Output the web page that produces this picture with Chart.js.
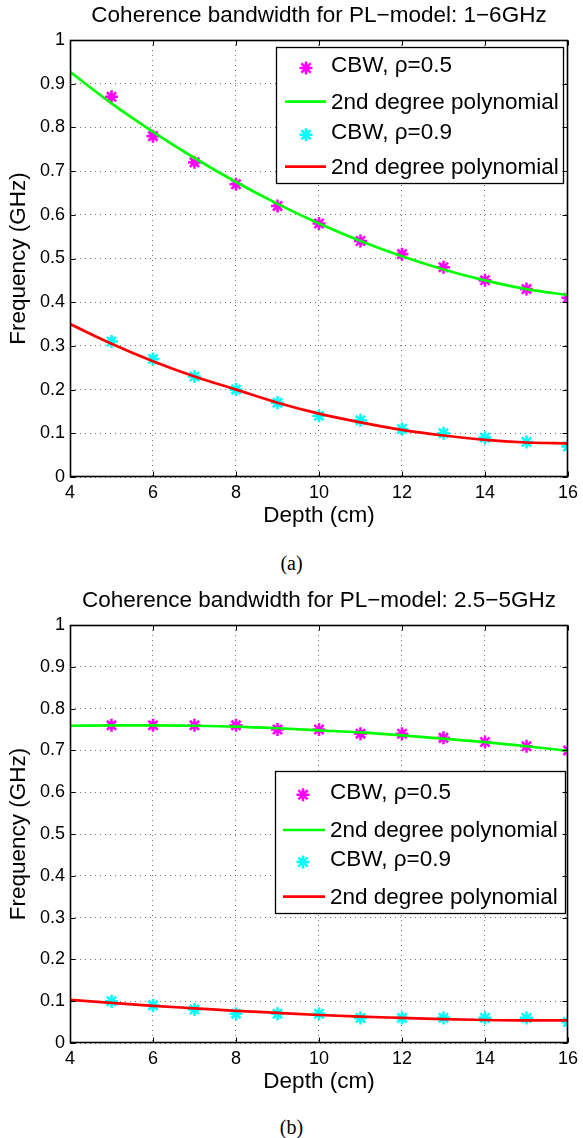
<!DOCTYPE html>
<html><head><meta charset="utf-8">
<script src="https://cdn.jsdelivr.net/npm/chart.js@4.4.1/dist/chart.umd.min.js"></script>
<style>
body{margin:0;background:#fff;width:583px;height:1138px;position:relative;overflow:hidden}
canvas{position:absolute;left:0}
.cap{position:absolute;left:0;width:583px;text-align:center;font-family:'Liberation Serif','Times New Roman',serif;font-size:20px;line-height:20px;color:#000}
</style></head><body>
<canvas id="ca" width="583" height="540" style="top:0px"></canvas>
<div class="cap" style="top:553px">(a)</div>
<canvas id="cb" width="583" height="531" style="top:575px"></canvas>
<div class="cap" style="top:1117px">(b)</div>
<script>
// ---- data ----
const depth = [5,6,7,8,9,10,11,12,13,14,15,16];
const fitDepth = [4,5,6,7,8,9,10,11,12,13,14,15,16];
const cbw05A = [0.87,0.78,0.72,0.67,0.62,0.58,0.54,0.51,0.48,0.45,0.43,0.41];
const fit05A = [0.927,0.855,0.79,0.73,0.675,0.625,0.58,0.54,0.505,0.475,0.45,0.43,0.416];
const cbw09A = [0.31,0.27,0.23,0.20,0.17,0.14,0.13,0.11,0.10,0.09,0.08,0.07];
const fit09A = [0.35,0.305,0.265,0.23,0.20,0.17,0.145,0.125,0.108,0.095,0.085,0.079,0.077];
const cbw05B = [0.76,0.76,0.76,0.76,0.75,0.75,0.74,0.74,0.73,0.72,0.71,0.70];
const fit05B = [0.759,0.760,0.760,0.759,0.757,0.753,0.748,0.743,0.736,0.728,0.72,0.71,0.699];
const cbw09B = [0.10,0.09,0.08,0.07,0.07,0.07,0.06,0.06,0.06,0.06,0.06,0.05];
const fit09B = [0.103,0.096,0.089,0.083,0.077,0.072,0.067,0.063,0.060,0.057,0.055,0.054,0.054];
const xTicks = [4,6,8,10,12,14,16];
const yTicks = [0,0.1,0.2,0.3,0.4,0.5,0.6,0.7,0.8,0.9,1];
const yTickLabels = ['0','0.1','0.2','0.3','0.4','0.5','0.6','0.7','0.8','0.9','1'];
const seriesLabels = ['CBW, \u03c1=0.5','2nd degree polynomial','CBW, \u03c1=0.9','2nd degree polynomial'];
const titleA = 'Coherence bandwidth for PL\u2212model: 1\u22126GHz';
const titleB = 'Coherence bandwidth for PL\u2212model: 2.5\u22125GHz';
const xTitle = 'Depth (cm)';
const yTitle = 'Frequency (GHz)';

const FONT = "'Liberation Sans', Arial, Helvetica, sans-serif";
Chart.defaults.font.family = FONT;
Chart.defaults.color = '#000';

const pts = (xs, ys) => xs.map((x, i) => ({x, y: ys[i]}));

const frameLegend = {
  id: 'frameLegend',
  afterDatasetsDraw(chart, args, o) {
    const ctx = chart.ctx;
    ctx.save();
    ctx.fillStyle = '#fff';
    ctx.fillRect(o.left, o.top, o.right - o.left, o.bottom - o.top);
    ctx.strokeStyle = '#000';
    ctx.lineWidth = 1.3;
    ctx.setLineDash([]);
    ctx.strokeRect(Math.round(o.left) + 0.5, Math.round(o.top) + 0.5, Math.round(o.right - o.left), Math.round(o.bottom - o.top));
    chart.data.datasets.forEach((ds, i) => {
      const y = o.top + o.rows[i];
      if (ds.showLine === false) {
        ctx.strokeStyle = ds.borderColor;
        ctx.fillStyle = ds.backgroundColor;
        ctx.lineWidth = ds.borderWidth;
        Chart.helpers.drawPoint(ctx, {pointStyle: 'star', radius: ds.pointRadius, borderWidth: ds.borderWidth}, o.markerX, y + 3);
      } else {
        ctx.strokeStyle = ds.borderColor;
        ctx.lineWidth = ds.borderWidth;
        ctx.beginPath(); ctx.moveTo(o.lineX1, y); ctx.lineTo(o.lineX2, y); ctx.stroke();
      }
      ctx.fillStyle = '#000';
      ctx.font = '22.5px ' + FONT;
      ctx.textBaseline = 'middle';
      ctx.textAlign = 'left';
      ctx.fillText(ds.label, o.textX, y + 1);
    });
    ctx.restore();
  },
  afterDraw(chart) {
    const {ctx, chartArea: a, scales} = chart;
    ctx.save();
    ctx.strokeStyle = '#000';
    ctx.lineWidth = 1;
    ctx.setLineDash([]);
    const L = Math.round(a.left) + 0.5, R = Math.round(a.right) - 0.5, T = Math.round(a.top) + 0.5, B = Math.round(a.bottom) - 0.5;
    ctx.beginPath();
    scales.x.ticks.forEach(t => {
      const px = Math.round(scales.x.getPixelForValue(t.value)) + 0.5;
      ctx.moveTo(px, B); ctx.lineTo(px, B - 5);
      ctx.moveTo(px, T); ctx.lineTo(px, T + 5);
    });
    scales.y.ticks.forEach(t => {
      const py = Math.round(scales.y.getPixelForValue(t.value)) + 0.5;
      ctx.moveTo(L, py); ctx.lineTo(L + 5, py);
      ctx.moveTo(R, py); ctx.lineTo(R - 5, py);
    });
    ctx.stroke();
    ctx.lineWidth = 1.6;
    ctx.strokeRect(L, T, R - L, B - T);
    ctx.restore();
  }
};

function makeChart(id, title, titlePadTop, cbw05, fit05, cbw09, fit09, leg) {
  const canvas = document.getElementById(id);
  return new Chart(canvas, {
    type: 'scatter',
    data: {
      datasets: [
        {label: seriesLabels[0], data: pts(depth, cbw05), showLine: false, pointStyle: 'star', pointRadius: 6.5, pointHoverRadius: 6.5, borderWidth: 2.6, borderColor: '#ff00ff', backgroundColor: '#ff00ff', order: 2},
        {label: seriesLabels[1], data: pts(fitDepth, fit05), showLine: true, pointRadius: 0, borderWidth: 2.7, borderColor: '#00ff00', backgroundColor: '#00ff00', cubicInterpolationMode: 'monotone', order: 1},
        {label: seriesLabels[2], data: pts(depth, cbw09), showLine: false, pointStyle: 'star', pointRadius: 6.5, pointHoverRadius: 6.5, borderWidth: 2.6, borderColor: '#00ffff', backgroundColor: '#00ffff', order: 2},
        {label: seriesLabels[3], data: pts(fitDepth, fit09), showLine: true, pointRadius: 0, borderWidth: 2.7, borderColor: '#ff0000', backgroundColor: '#ff0000', cubicInterpolationMode: 'monotone', order: 1}
      ]
    },
    options: {
      responsive: false,
      animation: false,
      events: [],
      layout: {padding: {left: 0, right: 13, top: 0, bottom: 0}},
      plugins: {
        legend: {display: false},
        tooltip: {enabled: false},
        title: {display: true, text: title, fullSize: false, color: '#000',
          font: {size: 22.5, weight: 'normal', lineHeight: 1.2},
          padding: {top: titlePadTop, bottom: 10.5}},
        frameLegend: leg
      },
      scales: {
        x: {
          type: 'linear', min: 4, max: 16,
          afterBuildTicks: s => { s.ticks = xTicks.map(v => ({value: v})); },
          afterFit: s => { s.height = 63; },
          ticks: {padding: 5, font: {size: 18}, color: '#000', maxRotation: 0, autoSkip: false},
          grid: {color: 'rgba(0,0,0,0.55)', lineWidth: 1, drawTicks: false},
          border: {display: false, dash: [1, 4]},
          title: {display: true, text: xTitle, color: '#000', font: {size: 22.5, lineHeight: 1.2}, padding: {top: 0, bottom: 10.5}}
        },
        y: {
          type: 'linear', min: 0, max: 1,
          afterBuildTicks: s => { s.ticks = yTicks.map(v => ({value: v})); },
          afterFit: s => { s.width = 70; },
          ticks: {padding: 5, font: {size: 18}, color: '#000', autoSkip: false,
            callback: (v, i) => yTickLabels[i]},
          grid: {color: 'rgba(0,0,0,0.55)', lineWidth: 1, drawTicks: false},
          border: {display: false, dash: [1, 4]},
          title: {display: true, text: yTitle, color: '#000', font: {size: 22.5, lineHeight: 1.2}, padding: {top: 5, bottom: 0}}
        }
      }
    },
    plugins: [frameLegend]
  });
}

makeChart('ca', titleA, 2.5, cbw05A, fit05A, cbw09A, fit09A,
  {left: 276, top: 47, right: 563, bottom: 183, rows: [18, 54.7, 84.7, 119.7], markerX: 306, lineX1: 285, lineX2: 326, textX: 331});
makeChart('cb', titleB, 12.5, cbw05B, fit05B, cbw09B, fit09B,
  {left: 275, top: 196, right: 565, bottom: 338, rows: [20.7, 59, 88, 125.7], markerX: 303, lineX1: 283, lineX2: 325, textX: 330});
</script>
</body></html>
